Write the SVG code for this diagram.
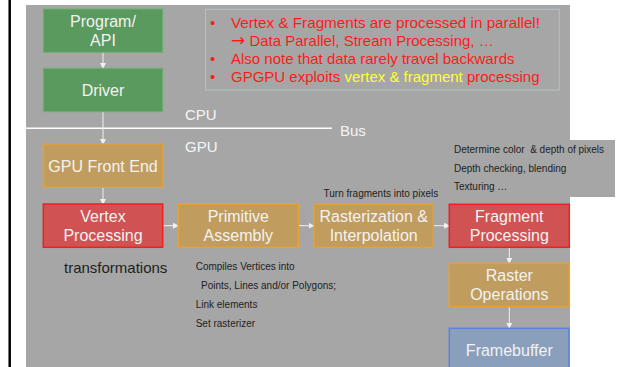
<svg xmlns="http://www.w3.org/2000/svg" width="617" height="367" viewBox="0 0 617 367">
<defs>
<style>
text{font-family:"Liberation Sans",Arial,sans-serif}
.bt{fill:#f2f2f2;font-size:16px;text-anchor:middle}
.lbl{fill:#f5f5f5;font-size:15px}
.note{fill:#1e1e1e;font-size:10px;white-space:pre}
.green{fill:#5b9a5f;stroke:#6cb36f;stroke-width:1}
.red{fill:#d05252;stroke:#f02020;stroke-width:1.5}
.tan{fill:#c09d5f;stroke:#e8a030;stroke-width:1.5}
.blue{fill:#8a9fbc;stroke:#5a82e0;stroke-width:1.5}
.con{stroke:#f0f0f0;stroke-width:1;fill:none;marker-end:url(#ah)}
.red-t{fill:#ff1a1a;font-size:15px}
</style>
<marker id="ah" markerWidth="6" markerHeight="6" refX="5" refY="3" orient="auto" markerUnits="userSpaceOnUse">
<path d="M0,0 L6,3 L0,6 Z" fill="#f0f0f0"/>
</marker>
</defs>
<rect x="0" y="0" width="617" height="367" fill="#ffffff"/>
<line x1="9.7" y1="0" x2="9.7" y2="367" stroke="#000" stroke-width="2.5"/>
<rect x="26" y="5" width="544" height="362" fill="#a6a6a6"/>
<rect x="560" y="140" width="55" height="57" fill="#a6a6a6"/>

<g id="bullets">
<rect x="205.7" y="9.3" width="353.6" height="80.7" fill="none" stroke="#b3c3c6" stroke-width="1"/>
<text class="red-t" x="210" y="27.5">•</text>
<text class="red-t" x="231" y="27.5" textLength="309" lengthAdjust="spacingAndGlyphs">Vertex &amp; Fragments are processed in parallel!</text>
<text class="red-t" x="231" y="45.8"><tspan font-family="'DejaVu Sans',sans-serif" font-size="17">→</tspan> Data Parallel, Stream Processing, …</text>
<text class="red-t" x="210" y="63.5">•</text>
<text class="red-t" x="231" y="63.5">Also note that data rarely travel backwards</text>
<text class="red-t" x="210" y="81.8">•</text>
<text class="red-t" x="231" y="81.8">GPGPU exploits <tspan fill="#ffff33">vertex &amp; fragment</tspan> processing</text>
</g>

<g id="connectors">
<line x1="26" y1="128.3" x2="332" y2="128.3" stroke="#ffffff" stroke-width="1.5"/>
<line class="con" x1="103" y1="52.3" x2="103" y2="68"/>
<line class="con" x1="103" y1="111.7" x2="103" y2="144"/>
<line class="con" x1="103" y1="187.3" x2="103" y2="204"/>
<line class="con" x1="162.7" y1="225.7" x2="178" y2="225.7"/>
<line class="con" x1="298.3" y1="225.7" x2="313.5" y2="225.7"/>
<line class="con" x1="433.3" y1="225.7" x2="449" y2="225.7"/>
<line class="con" x1="509.3" y1="247.3" x2="509.3" y2="263"/>
<line class="con" x1="509.3" y1="306.7" x2="509.3" y2="328"/>
</g>

<g id="labels">
<text class="lbl" x="185" y="120" font-size="16">CPU</text>
<text class="lbl" x="185" y="152">GPU</text>
<text class="lbl" x="340" y="135.5">Bus</text>
</g>

<g id="program"><rect class="green" x="43.3" y="9" width="119.4" height="43.3"/><text class="bt" x="103" y="26.7">Program/</text><text class="bt" x="103" y="45.7">API</text></g>
<g id="driver"><rect class="green" x="43.3" y="68.3" width="119.4" height="43.4"/><text class="bt" x="103" y="95.5">Driver</text></g>
<g id="frontend"><rect class="tan" x="43.4" y="144" width="119.6" height="43.3"/><text class="bt" x="103" y="171.5">GPU Front End</text></g>
<g id="vertex"><rect class="red" x="43.3" y="204" width="119.4" height="43.3"/><text class="bt" x="103" y="221.7">Vertex</text><text class="bt" x="103" y="241">Processing</text></g>
<g id="primitive"><rect class="tan" x="178.3" y="204" width="120" height="43.3"/><text class="bt" x="238.3" y="221.7">Primitive</text><text class="bt" x="238.3" y="241">Assembly</text></g>
<g id="raster"><rect class="tan" x="314" y="204.3" width="119.3" height="43"/><text class="bt" x="373.7" y="221.7">Rasterization &amp;</text><text class="bt" x="373.7" y="241">Interpolation</text></g>
<g id="fragment"><rect class="red" x="449.3" y="204.3" width="120" height="43"/><text class="bt" x="509.3" y="221.7">Fragment</text><text class="bt" x="509.3" y="241">Processing</text></g>
<g id="rop"><rect class="tan" x="449.3" y="263.3" width="120" height="43.4"/><text class="bt" x="509.3" y="281">Raster</text><text class="bt" x="509.3" y="300">Operations</text></g>
<g id="framebuffer"><rect class="blue" x="449.3" y="328.3" width="119.7" height="45"/><text class="bt" x="509.3" y="355.7">Framebuffer</text></g>

<g id="notes">
<text x="64" y="273.3" fill="#1e1e1e" font-size="15">transformations</text>
<text class="note" x="195.7" y="270">Compiles Vertices into</text>
<text class="note" x="201" y="289">Points, Lines and/or Polygons;</text>
<text class="note" x="195.7" y="308.3">Link elements</text>
<text class="note" x="195.7" y="327.3">Set rasterizer</text>
<text class="note" x="323.5" y="197">Turn fragments into pixels</text>
<text class="note" x="454" y="152.7">Determine color  &amp; depth of pixels</text>
<text class="note" x="454" y="171.7">Depth checking, blending</text>
<text class="note" x="454" y="190">Texturing …</text>
</g>
</svg>
